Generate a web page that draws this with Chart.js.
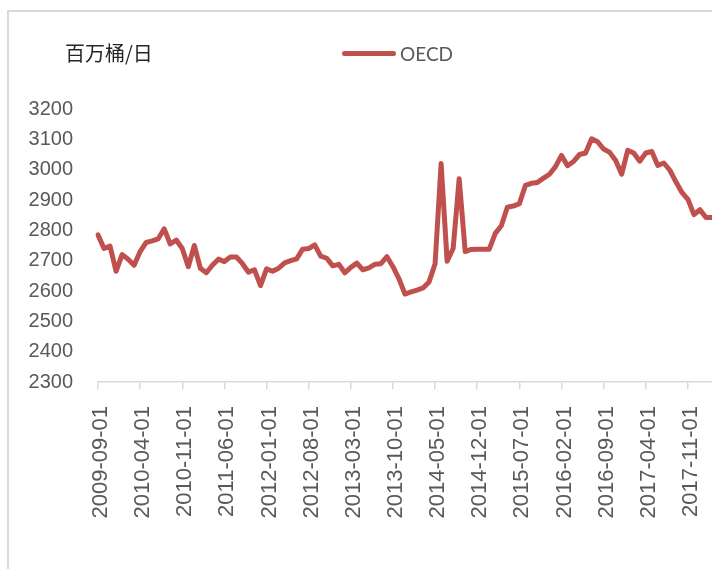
<!DOCTYPE html>
<html>
<head>
<meta charset="utf-8">
<script src="https://cdn.jsdelivr.net/npm/chart.js@4/dist/chart.umd.min.js"></script>
<style>
  html, body { margin: 0; padding: 0; background: #fff; overflow: hidden; }
  #frame {
    position: absolute; left: 7px; top: 10px; width: 800px; height: 600px;
    border: 2px solid #d9d9d9; box-sizing: border-box;
  }
  #wrap { position: absolute; left: 0; top: 0; width: 712px; height: 569px; }
  #unit {
    position: absolute; left: 65px; top: 38px;
    font: 20px "Noto Sans CJK SC", sans-serif; color: #262626;
  }
  #legend {
    position: absolute; left: 342px; top: 40px; height: 26px;
    font: 19px Lato, sans-serif; color: #595959; display: flex; align-items: center;
  }
  #legend span.swatch {
    display: inline-block; width: 54px; height: 5px; background: #c0504d;
    border-radius: 3px; margin-right: 4px;
  }
</style>
</head>
<body>
<div id="frame"></div>
<div id="wrap"><canvas id="oecdChart"></canvas></div>
<div id="unit">百万桶/日</div>
<div id="legend"><span class="swatch"></span>OECD</div>
<script>
  // monthly categories, 2009-09 .. 2018-03
  const startYear = 2009;
  const startMonth = 9;
  const monthCount = 103;
  const months = [];
  for (let i = 0; i < monthCount; i++) {
    const m = startMonth - 1 + i;
    const y = startYear + Math.floor(m / 12);
    const mm = String(m % 12 + 1).padStart(2, '0');
    months.push(y + '-' + mm + '-01');
  }

  // OECD, million barrels/day
  const oecdValues = [
    2785, 2740, 2748, 2665, 2720, 2705, 2685, 2730, 2760, 2765,
    2772, 2805, 2755, 2768, 2740, 2680, 2750, 2675, 2660, 2685,
    2705, 2697, 2712, 2712, 2690, 2662, 2670, 2618, 2673, 2665,
    2675, 2693, 2700, 2706, 2738, 2740, 2752, 2715, 2708, 2683,
    2688, 2660, 2678, 2692, 2670, 2676, 2688, 2690, 2713, 2680,
    2640, 2590, 2597, 2603, 2610, 2630, 2690, 3020, 2698, 2740,
    2970, 2730, 2737, 2738, 2738, 2738, 2790, 2815, 2876, 2880,
    2888, 2948, 2955, 2958, 2972, 2985, 3010, 3047, 3013, 3027,
    3050, 3055, 3102, 3092, 3068, 3057, 3030, 2985, 3064, 3055,
    3028, 3055, 3060, 3014, 3022, 2998, 2960, 2925, 2902, 2852,
    2868, 2842, 2842
  ];

  const labelEvery = 7;
  const yMin = 2300;
  const yMax = 3200;
  const yStep = 100;

  const axisGray = '#d9d9d9';
  const textGray = '#595959';

  new Chart(document.getElementById('oecdChart'), {
    type: 'line',
    data: {
      labels: months,
      datasets: [{
        label: 'OECD',
        data: oecdValues,
        borderColor: '#c0504d',
        borderWidth: 5,
        borderJoinStyle: 'round',
        borderCapStyle: 'round',
        pointRadius: 0,
        tension: 0,
        fill: false
      }]
    },
    options: {
      responsive: true,
      maintainAspectRatio: false,
      animation: false,
      layout: { padding: { left: 0, top: 109, right: 0, bottom: 0 } },
      plugins: { legend: { display: false }, tooltip: { enabled: false } },
      scales: {
        x: {
          offset: false,
          afterFit: function (scale) {
            scale.height = 187;
            scale.paddingLeft = 0;
            scale.paddingRight = 0;
          },
          border: { display: true, color: axisGray, width: 1.5 },
          grid: {
            drawOnChartArea: false,
            drawTicks: true,
            tickLength: 7,
            lineWidth: 1.5,
            color: ctx => (ctx.index % labelEvery === 0 ? axisGray : 'rgba(0,0,0,0)')
          },
          ticks: {
            autoSkip: false,
            maxRotation: 90,
            minRotation: 90,
            padding: 17,
            labelOffset: 3,
            color: textGray,
            font: { family: 'Liberation Sans', size: 22 },
            callback: function (v, i) { return i % labelEvery === 0 ? months[i] : ''; }
          }
        },
        y: {
          min: yMin,
          max: yMax,
          afterFit: function (scale) { scale.width = 98; },
          border: { display: false },
          grid: { display: false, drawTicks: false },
          ticks: {
            stepSize: yStep,
            padding: 25,
            color: textGray,
            font: { family: 'Liberation Sans', size: 20 },
            callback: v => String(v)
          }
        }
      }
    }
  });
</script>
</body>
</html>
